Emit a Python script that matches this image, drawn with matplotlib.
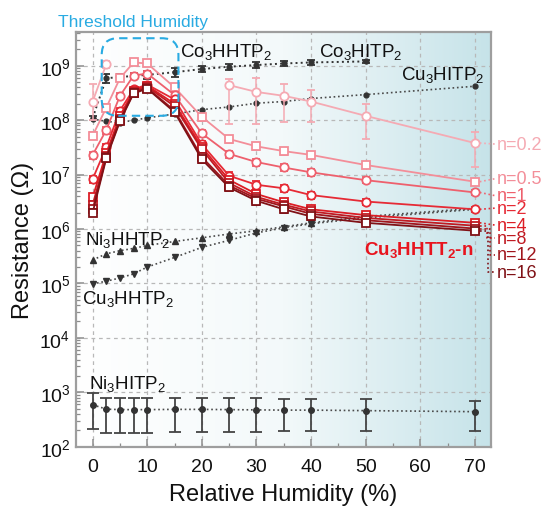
import numpy as np
import matplotlib
matplotlib.use('Agg')
import matplotlib.pyplot as plt
from matplotlib.patches import FancyBboxPatch
from matplotlib.colors import LinearSegmentedColormap
from matplotlib.ticker import MultipleLocator, LogLocator, FuncFormatter, NullFormatter

plt.rcParams['font.family'] = ['Liberation Sans', 'DejaVu Sans']
plt.rcParams['mathtext.fontset'] = 'custom'
plt.rcParams['mathtext.rm'] = 'Liberation Sans'
plt.rcParams['mathtext.it'] = 'Liberation Sans:italic'
plt.rcParams['mathtext.bf'] = 'Liberation Sans:bold'

# relative humidity (%)
humidity = np.array([0, 2.5, 5, 7.5, 10, 15, 20, 25, 30, 35, 40, 50, 70])

# reference MOFs (Ohm)
ni3hitp2 = np.array([590, 490, 480, 480, 480, 485, 485, 480, 475, 470, 470, 460, 440])
ni3hitp2_lo = np.array([210, 180, 180, 180, 180, 185, 185, 190, 190, 195, 195, 195, 195])
ni3hitp2_hi = np.array([950, 800, 800, 800, 800, 800, 800, 800, 780, 760, 760, 740, 680])
ni3hhtp2 = np.array([2.7e5, 3.5e5, 4.0e5, 4.4e5, 5.0e5, 5.9e5, 6.9e5, 8.1e5, 9.3e5, 1.1e6, 1.3e6, 1.7e6, 2.4e6])
cu3hhtp2 = np.array([9.8e4, 1.1e5, 1.26e5, 1.5e5, 2.0e5, 3.0e5, 4.6e5, 6.2e5, 8.5e5, 1.05e6, 1.25e6, 1.6e6, 2.3e6])
cu3hitp2 = np.array([1.05e8, 9.5e7, 9.0e7, 1.0e8, 1.1e8, 1.3e8, 1.56e8, 1.75e8, 2.05e8, 2.2e8, 2.5e8, 2.95e8, 4.2e8])
co3_humidity = humidity[:12]
co3hhtp2 = np.array([1.1e8, 5.9e8, 6.2e8, 6.5e8, 6.8e8, 7.6e8, 8.7e8, 9.6e8, 1.03e9, 1.1e9, 1.15e9, 1.2e9])
co3hhtp2_lo = np.array([1.0e8, 4.9e8, 5.4e8, 5.6e8, 5.8e8, 6.3e8, 7.6e8, 8.5e8, 9.2e8, 1.0e9, 1.05e9, 1.13e9])
co3hhtp2_hi = np.array([1.2e8, 7.1e8, 7.1e8, 7.5e8, 7.9e8, 9.1e8, 9.9e8, 1.08e9, 1.15e9, 1.2e9, 1.25e9, 1.27e9])

# Cu3HHTT2-n films
nan = np.nan
n_labels = ['n=0.2', 'n=0.5', 'n=1', 'n=2', 'n=4', 'n=8', 'n=12', 'n=16']
cu_n02 = np.array([2.2e8, 1.07e9, nan, nan, nan, nan, nan, 4.4e8, 3.3e8, 2.8e8, 2.2e8, 1.2e8, 3.8e7])
cu_n02_lo = np.array([1.0e8, 9.0e8, nan, nan, nan, nan, nan, 8.5e7, 8.5e7, 9.4e7, 9.2e7, 4.6e7, 1.4e7])
cu_n02_hi = np.array([4.6e8, 1.2e9, nan, nan, nan, nan, nan, 5.7e8, 5.9e8, 4.6e8, 3.6e8, 2.0e8, 6.1e7])
cu_n05 = np.array([5.2e7, 1.7e8, 5.9e8, 1.15e9, 1.1e9, 4.0e8, 1.15e8, 4.5e7, 3.3e7, 2.7e7, 2.3e7, 1.5e7, 7.4e6])
cu_n1 = np.array([2.3e7, 6.6e7, 2.8e8, 6.6e8, 7.2e8, 2.9e8, 5.7e7, 2.4e7, 1.7e7, 1.35e7, 1.1e7, 7.9e6, 4.7e6])
cu_n2 = np.array([8.3e6, 3.2e7, 1.5e8, 3.7e8, 4.5e8, 2.4e8, 3.6e7, 9.5e6, 6.5e6, 5.6e6, 4.2e6, 3.2e6, 2.3e6])
cu_n4 = np.array([3.8e6, 2.5e7, 1.2e8, 3.5e8, 4.3e8, 2.0e8, 3.2e7, 8.0e6, 4.4e6, 3.1e6, 2.3e6, 1.8e6, 1.3e6])
cu_n8 = np.array([2.8e6, 2.2e7, 1.05e8, 3.3e8, 4.1e8, 1.8e8, 2.9e7, 7.0e6, 3.9e6, 2.8e6, 2.1e6, 1.6e6, 1.15e6])
cu_n12 = np.array([2.3e6, 2.1e7, 1.0e8, 3.2e8, 3.9e8, 1.5e8, 2.1e7, 6.3e6, 3.6e6, 2.6e6, 1.9e6, 1.45e6, 1.02e6])
cu_n16 = np.array([2.0e6, 2.0e7, 9.5e7, 3.1e8, 3.8e8, 1.4e8, 1.9e7, 5.8e6, 3.3e6, 2.3e6, 1.7e6, 1.3e6, 9.3e5])
# typical relative error of the Cu3HHTT2-n points
cu_rel_err = np.array([0.15, 0.15, 0.12, 0.1, 0.1, 0.12, 0.15, 0.15, 0.15, 0.15, 0.15, 0.12, 0.12])
# where each n label sits on the right (Ohm)
label_y = [3.64e7, 8.4e6, 4.1e6, 2.42e6, 1.18e6, 6.7e5, 3.4e5, 1.6e5]

red_colors = ['#f5aab3', '#f38e99', '#ee606d', '#e62a35', '#dc1d25', '#c01a22', '#a0151c', '#801116']
red_markers = ['o', 's', 'o', 'o', 's', 's', 's', 's']
gray = '#4a4a4a'

fig = plt.figure(figsize=(5.48, 5.10), dpi=100)
ax = fig.add_axes([76 / 548, 1 - 447.7 / 510, 414.7 / 548, 414.7 / 510])
ax.set_yscale('log')

# background gradient white -> light teal
bg = LinearSegmentedColormap.from_list('bg', ['#ffffff', '#f3f9fa', '#c6e3e9'])
ax.imshow(np.linspace(0, 1, 256).reshape(1, -1), cmap=bg, aspect='auto',
          extent=[0, 1, 0, 1], transform=ax.transAxes, zorder=0)

# gray reference lines
ax.plot(humidity, ni3hhtp2, ls=':', color=gray, lw=1.2, marker='^', ms=4, mfc='#333333', mec='#333333', zorder=3)
ax.plot(humidity, cu3hhtp2, ls=':', color=gray, lw=1.2, marker='v', ms=4, mfc='#333333', mec='#333333', zorder=3)
ax.plot(humidity, cu3hitp2, ls=':', color=gray, lw=1.2, marker='o', ms=3.5, mfc='#333333', mec='#333333', zorder=3)
ax.errorbar(humidity, ni3hitp2, yerr=[ni3hitp2 - ni3hitp2_lo, ni3hitp2_hi - ni3hitp2],
            fmt=':', color=gray, lw=1.2, marker='o', ms=4, mfc='#333333', mec='#333333',
            ecolor='#444444', elinewidth=1.3, capsize=4, capthick=1.3, zorder=3)
ax.errorbar(co3_humidity, co3hhtp2, yerr=[co3hhtp2 - co3hhtp2_lo, co3hhtp2_hi - co3hhtp2],
            fmt=':', color='#333333', lw=1.4, marker='o', ms=3.5, mfc='#333333', mec='#333333',
            ecolor='#333333', elinewidth=1.3, capsize=3, capthick=1.3, zorder=3)

# Cu3HHTT2-n lines
cu_series = [cu_n02, cu_n05, cu_n1, cu_n2, cu_n4, cu_n8, cu_n12, cu_n16]
for i in reversed(range(len(cu_series))):
    vals = cu_series[i]
    c = red_colors[i]
    if i == 0:
        yerr = [vals - cu_n02_lo, cu_n02_hi - vals]
    else:
        yerr = [vals * cu_rel_err, vals * cu_rel_err]
    ax.errorbar(humidity, vals, yerr=yerr, fmt='-', color=c, lw=1.3, marker=red_markers[i], ms=6,
                mfc='white', mec=c, mew=1.3, ecolor=c, elinewidth=1.1, capsize=3, capthick=1.1, zorder=4 + i * 0.1)

# leader lines to the n labels
elbow_x = [None, None, None, None, None, 72.2, 72.7, 72.4]
for i, vals in enumerate(cu_series):
    c = red_colors[i]
    if elbow_x[i] is None:
        xs = [70.9, 73.7]
        ys = [vals[-1], label_y[i]]
    else:
        xs = [70.9, elbow_x[i], elbow_x[i], 73.7]
        ys = [vals[-1], vals[-1], label_y[i], label_y[i]]
    ax.plot(xs, ys, ls=':', color=c, lw=1.2, clip_on=False, zorder=5)
    ax.text(74.0, label_y[i], n_labels[i], color=c, fontsize=13, va='center', ha='left', clip_on=False)

# threshold humidity box
box = FancyBboxPatch((0.062, 0.798), 0.185, 0.187, boxstyle='round,pad=0,rounding_size=0.04',
                     transform=ax.transAxes, fill=False, ec='#29abe2', lw=1.5, ls=(0, (4, 2.5)), zorder=6)
ax.add_patch(box)
fig.text(58 / 548, 1 - 22 / 510, 'Threshold Humidity', color='#29abe2', fontsize=12.5, va='center', ha='left')

# material labels
fig.text(180 / 548, 1 - 52 / 510, r'Co$_3$HHTP$_2$', fontsize=13.5, va='center', color='#111111')
fig.text(319 / 548, 1 - 52 / 510, r'Co$_3$HITP$_2$', fontsize=13.5, va='center', color='#111111')
fig.text(401 / 548, 1 - 75 / 510, r'Cu$_3$HITP$_2$', fontsize=13.5, va='center', color='#111111')
fig.text(85 / 548, 1 - 240 / 510, r'Ni$_3$HHTP$_2$', fontsize=13.5, va='center', color='#111111')
fig.text(82 / 548, 1 - 299 / 510, r'Cu$_3$HHTP$_2$', fontsize=13.5, va='center', color='#111111')
fig.text(89 / 548, 1 - 384 / 510, r'Ni$_3$HITP$_2$', fontsize=13.5, va='center', color='#111111')
fig.text(364 / 548, 1 - 250 / 510, r'Cu$_\mathbf{3}$HHTT$_\mathbf{2}$-n', fontsize=13.5, fontweight='bold',
         va='center', color='#e8141e')

ax.set_xlim(-3.05, 72.9)
ax.set_ylim(1e2, 10 ** 9.62)
ax.xaxis.set_major_locator(MultipleLocator(10))
ax.xaxis.set_minor_locator(MultipleLocator(5))
ax.yaxis.set_major_locator(LogLocator(base=10, numticks=20))
ax.yaxis.set_minor_locator(LogLocator(base=10, subs=np.arange(2, 10), numticks=20))
ax.yaxis.set_minor_formatter(NullFormatter())
ax.yaxis.set_major_formatter(FuncFormatter(lambda v, p: r'$10^{%d}$' % round(np.log10(v))))
ax.grid(True, which='major', ls=(0, (3, 3)), color='#b8b8b8', lw=0.9)
ax.set_axisbelow(True)
ax.tick_params(which='both', direction='in', color='#8c8c8c', labelsize=14, labelcolor='#111111')
ax.tick_params(which='major', length=6, width=1.1)
ax.tick_params(which='minor', length=3, width=0.9)
ax.tick_params(axis='x', pad=8)
ax.tick_params(axis='y', pad=4)
for s in ax.spines.values():
    s.set_color('#9e9e9e')
    s.set_linewidth(1.6)

ax.set_xlabel('Relative Humidity (%)', fontsize=17, labelpad=6, color='#111111')
ax.set_ylabel('Resistance (\u03a9)', fontsize=17, labelpad=4, color='#111111')

fig.savefig('out.png', dpi=100)
